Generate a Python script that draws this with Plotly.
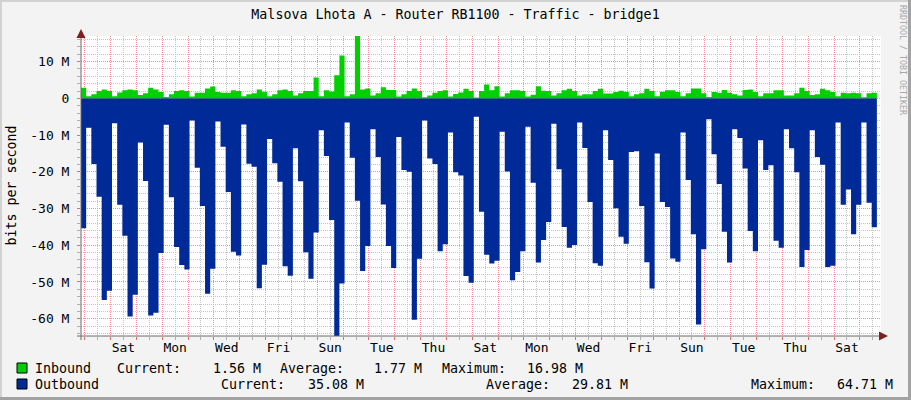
import numpy as np
import plotly.graph_objects as go

title = "Malsova Lhota A - Router RB1100 - Traffic - bridge1"

# traffic in Mbit/s, one value per 4.8 h step, inbound up, outbound drawn down
inbound = [
    2.9, 0.6, 1.1, 2.0, 2.4, 2.0, 0.6, 1.6, 2.2, 2.4,
    2.2, 0.9, 1.4, 2.9, 2.4, 1.7, 0.4, 1.1, 2.0, 2.2,
    2.0, 0.5, 1.5, 1.5, 2.7, 3.2, 1.7, 1.5, 1.5, 2.2,
    2.0, 0.6, 1.1, 1.4, 2.4, 1.8, 0.6, 1.1, 2.2, 2.4,
    2.0, 0.8, 1.4, 2.0, 2.0, 5.7, 0.6, 2.2, 1.9, 6.3,
    11.7, 0.6, 1.1,
    16.98, 2.4, 2.7, 0.8, 1.4, 3.0, 2.3, 2.3, 0.5, 1.1,
    2.0, 2.7, 2.0, 0.3, 0.8, 1.5, 2.0, 2.2, 0.5, 1.2,
    1.6, 2.6, 2.0, 0.2, 2.0, 3.8, 2.2, 3.3, 0.5, 1.4,
    2.2, 2.2, 2.0, 0.5, 1.0, 3.3, 2.1, 2.0, 0.8, 1.4,
    2.2, 2.6, 2.0, 0.8, 1.1, 1.1, 2.0, 2.6, 1.3, 1.3,
    1.7, 2.1, 1.8,
    0.6, 1.1, 1.4, 2.6, 2.0, 0.6, 1.8, 2.2, 2.2, 1.7,
    0.6, 1.4, 2.7, 2.7, 1.4, 0.4, 1.7, 1.5, 2.3, 1.5,
    1.1, 0.8, 2.3, 2.4, 1.7, 0.6, 1.4, 1.4, 2.2, 2.2,
    0.8, 0.8, 1.4, 2.9, 2.0, 0.9, 1.1, 2.6, 2.2, 1.7,
    0.6, 1.5, 1.4, 1.5, 1.4, 0.3, 1.4, 1.56,
]
outbound = [
    -35.4, -8.0, -17.9, -26.8, -54.9, -52.4, -6.8, -29.0, -37.4, -59.4,
    -53.5, -12.0, -22.5, -59.1, -58.4, -42.1, -7.2, -26.9, -40.5, -45.4,
    -46.6, -6.0, -18.9, -29.3, -53.2, -46.4, -6.3, -13.2, -25.5, -41.8,
    -42.8, -7.1, -17.8, -18.6, -51.7, -45.3, -11.1, -17.7, -22.7, -45.7,
    -48.3, -13.6, -22.6, -41.9, -49.1, -36.5, -8.7, -15.7, -33.1, -64.71,
    -50.4, -6.6, -16.2,
    -27.9, -47.0, -40.2, -8.4, -16.0, -28.9, -40.2, -46.2, -10.5, -19.5,
    -20.0, -60.3, -43.7, -6.0, -16.4, -17.9, -41.6, -39.7, -9.3, -20.1,
    -21.0, -48.4, -50.2, -5.0, -30.9, -42.6, -45.0, -44.2, -9.1, -19.9,
    -49.5, -47.3, -41.6, -7.7, -23.0, -44.7, -38.6, -33.7, -6.9, -19.3,
    -35.0, -40.7, -39.9, -6.6, -13.5, -28.2, -44.9, -45.6, -8.7, -16.8,
    -29.9, -37.7, -39.6,
    -14.6, -14.4, -29.3, -44.6, -51.8, -15.0, -28.2, -29.6, -43.6, -44.5,
    -9.3, -22.2, -37.0, -61.6, -41.1, -5.7, -15.2, -23.3, -36.3, -44.7,
    -8.4, -10.8, -19.1, -36.1, -41.6, -11.4, -19.5, -18.2, -38.8, -40.7,
    -8.4, -13.6, -20.1, -45.9, -41.3, -8.7, -16.0, -18.1, -45.9, -45.6,
    -6.6, -29.0, -24.8, -37.0, -29.0, -6.6, -28.4, -35.08,
]

# x axis in days, day 0 = Friday 00:00; a label every second day at noon
day_labels = ["Sat", "Mon", "Wed", "Fri", "Sun", "Tue", "Thu", "Sat",
              "Mon", "Wed", "Fri", "Sun", "Tue", "Thu", "Sat"]
y_ticks = [10, 0, -10, -20, -30, -40, -50, -60]
y_ticktext = ["10 M", "0", "-10 M", "-20 M", "-30 M", "-40 M", "-50 M", "-60 M"]

legend_names = ["Inbound", "Outbound"]
in_stats = ["1.56 M", "1.77 M", "16.98 M"]
out_stats = ["35.08 M", "29.81 M", "64.71 M"]

t_start = -0.143
step = 0.2
t = t_start + step * np.arange(len(outbound) + 1)

noons = np.arange(31) + 0.5
ticktext = [""] * len(noons)
for i, lab in enumerate(day_labels):
    ticktext[1 + 2 * i] = lab

GREEN = "#00CF00"
BLUE = "#002A97"
FONT = "DejaVu Sans Mono"

# plot area in pixels: x 81..881, y 36..336
L, T, W, H = 81, 36, 800, 300
def px(x):
    return (x - L) / W
def py(y):
    return (T + H - y) / H

fig = go.Figure()
fig.add_trace(go.Scatter(x=t, y=outbound + [outbound[-1]], mode="lines",
                         line=dict(width=0, shape="hv"), fill="tozeroy",
                         fillcolor=BLUE, hoverinfo="skip"))
fig.add_trace(go.Scatter(x=t, y=inbound + [inbound[-1]], mode="lines",
                         line=dict(width=0, shape="hv"), fill="tozeroy",
                         fillcolor=GREEN, hoverinfo="skip"))

grid_gray = "#C4C4C4"
grid_red = "#EE9090"
dash = "1px,1px"

fig.update_xaxes(range=[t_start, t_start + 30.96], tickmode="array",
                 tickvals=noons, ticktext=ticktext,
                 showgrid=True, gridcolor=grid_gray, griddash=dash, gridwidth=1,
                 ticks="outside", ticklen=3, tickcolor="#B0B0B0",
                 ticklabelstandoff=-4,
                 minor=dict(tick0=0, dtick=1, showgrid=True, gridcolor=grid_red,
                            griddash=dash, ticks="outside", ticklen=3,
                            tickcolor="#E07070"),
                 zeroline=False, showline=False, fixedrange=True,
                 tickfont=dict(family=FONT, size=13, color="black"))
fig.update_yaxes(range=[-64.71, 16.98], tickmode="array",
                 tickvals=y_ticks, ticktext=y_ticktext,
                 showgrid=True, gridcolor=grid_red, griddash=dash, gridwidth=1,
                 ticks="outside", ticklen=3, tickcolor="#E07070",
                 ticklabelstandoff=5,
                 minor=dict(tick0=0, dtick=2, showgrid=True, gridcolor=grid_gray,
                            griddash=dash, ticks="outside", ticklen=3,
                            tickcolor="#B0B0B0"),
                 zeroline=False, showline=False, fixedrange=True,
                 tickfont=dict(family=FONT, size=13, color="black"))

shapes = []
# axis lines
shapes.append(dict(type="line", xref="paper", yref="paper", x0=px(77), x1=px(884),
                   y0=0, y1=0, line=dict(color="#6A6A6A", width=1)))
shapes.append(dict(type="line", xref="paper", yref="paper", x0=0, x1=0,
                   y0=py(340), y1=py(32), line=dict(color="#6A6A6A", width=1)))
# legend keys
for i, c in enumerate([GREEN, BLUE]):
    y0 = 363 + 16 * i
    shapes.append(dict(type="rect", xref="paper", yref="paper",
                       x0=px(17), x1=px(27), y0=py(y0 + 10), y1=py(y0),
                       fillcolor=c, line=dict(color="black", width=1)))
# 3d frame
shapes.append(dict(type="rect", xref="paper", yref="paper", x0=px(0), x1=px(2),
                   y0=py(400), y1=py(0), fillcolor="#D2D2D2", line=dict(width=0)))
shapes.append(dict(type="rect", xref="paper", yref="paper", x0=px(0), x1=px(911),
                   y0=py(2), y1=py(0), fillcolor="#D2D2D2", line=dict(width=0)))
shapes.append(dict(type="rect", xref="paper", yref="paper", x0=px(908), x1=px(911),
                   y0=py(400), y1=py(0), fillcolor="#A2A2A2", line=dict(width=0)))
shapes.append(dict(type="rect", xref="paper", yref="paper", x0=px(0), x1=px(911),
                   y0=py(400), y1=py(397), fillcolor="#A2A2A2", line=dict(width=0)))

ann = []
# arrow heads of the axes
ann.append(dict(xref="paper", yref="paper", x=px(888), y=0, ax=-6, ay=0, text="",
                showarrow=True, arrowhead=2, arrowsize=1.2, arrowwidth=1.5,
                arrowcolor="#7F1F1F", standoff=0))
ann.append(dict(xref="paper", yref="paper", x=0, y=py(29), ax=0, ay=6, text="",
                showarrow=True, arrowhead=2, arrowsize=1.2, arrowwidth=1.5,
                arrowcolor="#7F1F1F", standoff=0))
ann.append(dict(xref="paper", yref="paper", x=px(10.5), y=0.5, text="bits per second",
                textangle=-90, showarrow=False, font=dict(family=FONT, size=13.3),
                xanchor="center", yanchor="middle"))
ann.append(dict(xref="paper", yref="paper", x=px(903), y=py(60),
                text="RRDTOOL / TOBI OETIKER", textangle=90, showarrow=False,
                font=dict(family=FONT, size=8.3, color="#A8A8A8"),
                xanchor="center", yanchor="middle"))

rows = [
    [(legend_names[0], 34, "left"), ("Current:", 116, "left"), (in_stats[0], 262, "right"),
     ("Average:", 279, "left"), (in_stats[1], 423, "right"),
     ("Maximum:", 441, "left"), (in_stats[2], 584, "right")],
    [(legend_names[1], 34, "left"), ("Current:", 220, "left"), (out_stats[0], 365, "right"),
     ("Average:", 485, "left"), (out_stats[1], 629, "right"),
     ("Maximum:", 750, "left"), (out_stats[2], 894, "right")],
]
for r, row in enumerate(rows):
    yc = 368 + 16 * r
    for txt, x, anchor in row:
        ann.append(dict(xref="paper", yref="paper", x=px(x), y=py(yc), text=txt,
                        showarrow=False, xanchor=anchor, yanchor="middle",
                        borderpad=0, font=dict(family=FONT, size=13.3, color="black")))

fig.update_layout(
    width=911, height=400,
    margin=dict(l=L, r=911 - L - W, t=T, b=400 - T - H, pad=0),
    paper_bgcolor="#F3F3F3", plot_bgcolor="white",
    showlegend=False,
    font=dict(family=FONT, size=13, color="black"),
    title=dict(text=title, x=0.5, xref="container", xanchor="center",
               y=1 - 14.5 / 400, yref="container", yanchor="middle",
               font=dict(family=FONT, size=13.3, color="black")),
    shapes=shapes, annotations=ann,
)

# the page's default body margin would push the 911x400 figure off the window
fig.write_html("out.html", config={"displayModeBar": False},
               post_script="document.body.style.margin='0';")
